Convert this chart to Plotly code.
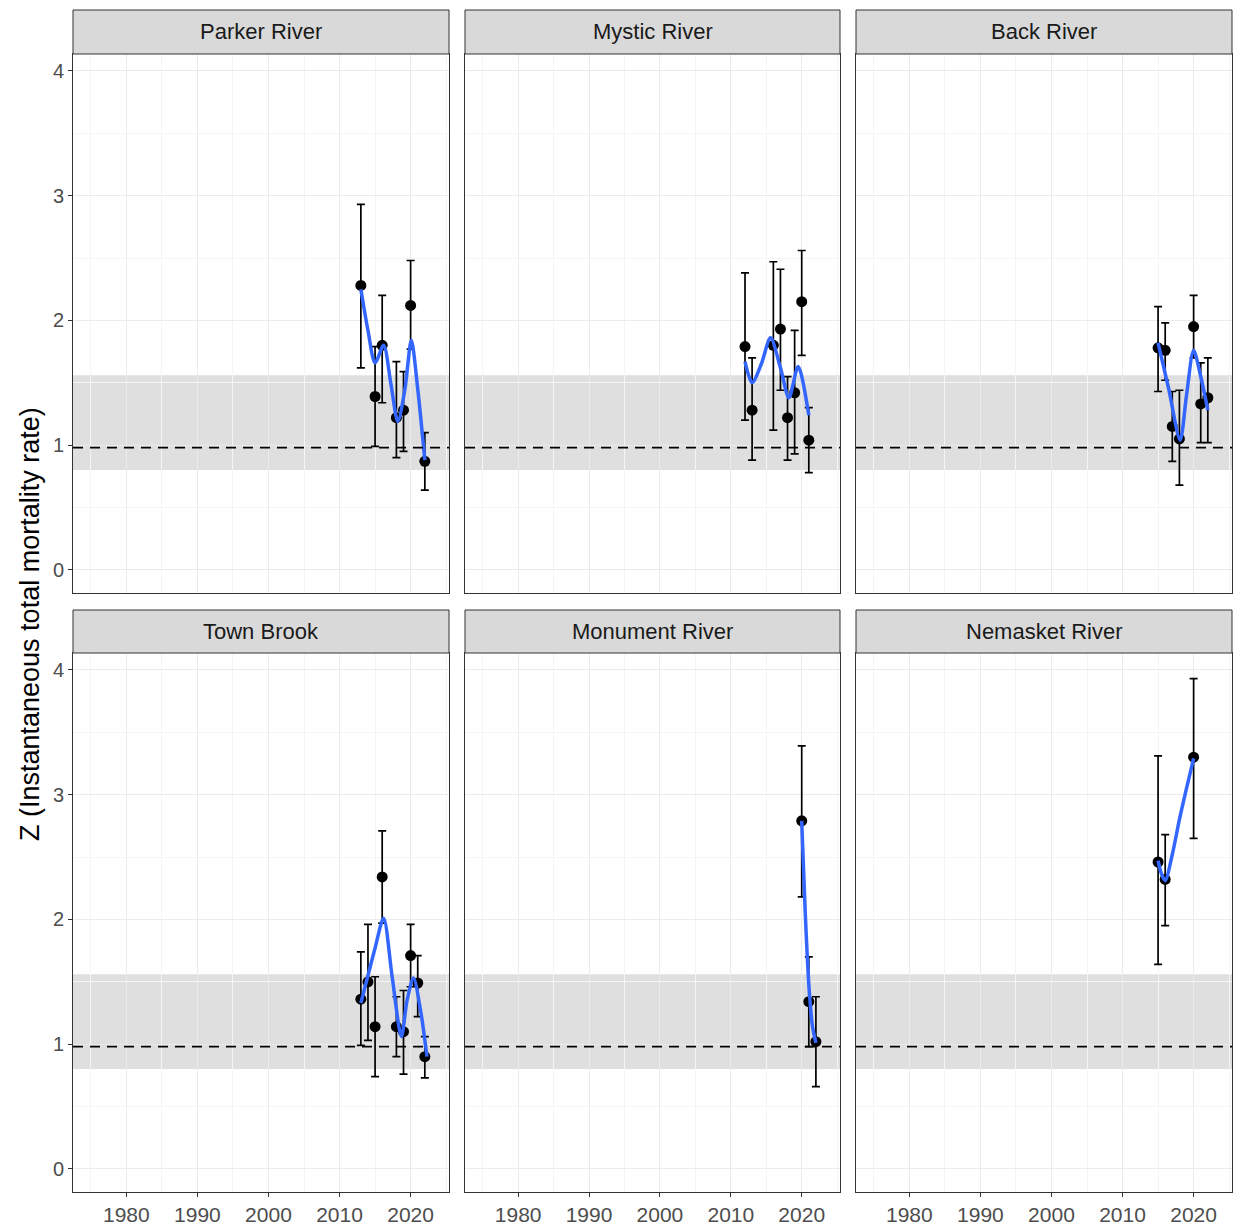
import plotly.graph_objects as go

W, H = 1236, 1230

rivers = ["Parker River", "Mystic River", "Back River", "Town Brook", "Monument River", "Nemasket River"]

# ---- observed Z estimates with confidence limits ----
parker_years = [2013, 2015, 2016, 2018, 2019, 2020, 2022]
parker_z = [2.28, 1.39, 1.80, 1.22, 1.28, 2.12, 0.87]
parker_lo = [1.62, 0.99, 1.34, 0.90, 0.95, 1.77, 0.64]
parker_hi = [2.93, 1.79, 2.20, 1.67, 1.59, 2.48, 1.10]

mystic_years = [2012, 2013, 2016, 2017, 2018, 2019, 2020, 2021]
mystic_z = [1.79, 1.28, 1.80, 1.93, 1.22, 1.42, 2.15, 1.04]
mystic_lo = [1.20, 0.88, 1.12, 1.44, 0.88, 0.93, 1.72, 0.78]
mystic_hi = [2.38, 1.70, 2.47, 2.41, 1.55, 1.92, 2.56, 1.30]

back_years = [2015, 2016, 2017, 2018, 2020, 2021, 2022]
back_z = [1.78, 1.76, 1.15, 1.05, 1.95, 1.33, 1.38]
back_lo = [1.43, 1.52, 0.87, 0.68, 1.70, 1.02, 1.02]
back_hi = [2.11, 1.98, 1.43, 1.44, 2.20, 1.66, 1.70]

town_years = [2013, 2014, 2015, 2016, 2018, 2019, 2020, 2021, 2022]
town_z = [1.36, 1.50, 1.14, 2.34, 1.14, 1.10, 1.71, 1.49, 0.90]
town_lo = [0.99, 1.03, 0.74, 1.97, 0.90, 0.76, 1.46, 1.22, 0.73]
town_hi = [1.74, 1.96, 1.54, 2.71, 1.38, 1.43, 1.96, 1.71, 1.06]

monument_years = [2020, 2021, 2022]
monument_z = [2.79, 1.34, 1.02]
monument_lo = [2.18, 0.98, 0.66]
monument_hi = [3.39, 1.70, 1.38]

nemasket_years = [2015, 2016, 2020]
nemasket_z = [2.46, 2.32, 3.30]
nemasket_lo = [1.64, 1.95, 2.65]
nemasket_hi = [3.31, 2.68, 3.93]

# ---- smoothed trend ----
parker_fit_x = [2013, 2014, 2015, 2016.2, 2017.2, 2018.2, 2019.2, 2020.1, 2021, 2022]
parker_fit_y = [2.25, 1.92, 1.66, 1.80, 1.50, 1.19, 1.45, 1.84, 1.45, 0.88]
mystic_fit_x = [2012, 2013, 2014.3, 2015.6, 2017, 2018.2, 2019.5, 2021]
mystic_fit_y = [1.67, 1.50, 1.65, 1.86, 1.62, 1.38, 1.63, 1.24]
back_fit_x = [2015, 2016.5, 2018.1, 2019, 2020, 2021, 2022]
back_fit_y = [1.82, 1.45, 1.04, 1.40, 1.76, 1.55, 1.28]
town_fit_x = [2013, 2014, 2015, 2016.2, 2017.4, 2018.7, 2019.5, 2020.4, 2021.4, 2022.3]
town_fit_y = [1.33, 1.55, 1.77, 2.01, 1.54, 1.06, 1.35, 1.53, 1.27, 0.90]
monument_fit_x = [2020, 2020.5, 2021, 2021.5, 2022]
monument_fit_y = [2.79, 2.05, 1.48, 1.15, 1.01]
nemasket_fit_x = [2015, 2015.5, 2016, 2017, 2018, 2019, 2020]
nemasket_fit_y = [2.47, 2.36, 2.31, 2.52, 2.80, 3.05, 3.29]

# reference level and band
ref_z = 0.98
band_lo, band_hi = 0.80, 1.56

x_ticks = [1980, 1990, 2000, 2010, 2020]
y_ticks = [0, 1, 2, 3, 4]
x_range = [1972.5, 2025.4]
y_range = [-0.185, 4.135]

data = [
    (parker_years, parker_z, parker_lo, parker_hi, parker_fit_x, parker_fit_y),
    (mystic_years, mystic_z, mystic_lo, mystic_hi, mystic_fit_x, mystic_fit_y),
    (back_years, back_z, back_lo, back_hi, back_fit_x, back_fit_y),
    (town_years, town_z, town_lo, town_hi, town_fit_x, town_fit_y),
    (monument_years, monument_z, monument_lo, monument_hi, monument_fit_x, monument_fit_y),
    (nemasket_years, nemasket_z, nemasket_lo, nemasket_hi, nemasket_fit_x, nemasket_fit_y),
]

col_px = [(73, 449), (465, 840), (856, 1232)]
row_plot_px = [(54, 593), (653, 1192)]
row_strip_px = [(10, 54), (610, 653)]

FONT = "Liberation Sans, Arial, sans-serif"
fig = go.Figure()
layout = dict(width=W, height=H, margin=dict(l=0, r=0, t=0, b=0),
              paper_bgcolor="white", plot_bgcolor="white", showlegend=False,
              font=dict(family=FONT))
shapes = []
annotations = []

for i, (yrs, z, lo, hi, fx, fy) in enumerate(data):
    r, c = divmod(i, 3)
    n = i + 1
    xa = "x" if n == 1 else f"x{n}"
    ya = "y" if n == 1 else f"y{n}"
    x0, x1 = col_px[c]
    y0, y1 = row_plot_px[r]
    layout[f"xaxis{n}"] = dict(
        domain=[x0 / W, x1 / W], anchor=ya, range=x_range,
        tickmode="array", tickvals=x_ticks,
        showticklabels=(r == 1), ticks="outside" if r == 1 else "",
        ticklen=4, tickwidth=1, tickcolor="#333333",
        tickfont=dict(size=21, color="#4d4d4d", family=FONT),
        showgrid=True, gridcolor="#ebebeb", gridwidth=1,
        minor=dict(tickmode="array", tickvals=[1975, 1985, 1995, 2005, 2015, 2025],
                   showgrid=True, gridcolor="#f5f5f5", gridwidth=0.6, ticks=""),
        showline=True, linecolor="#333333", linewidth=1, mirror=True, zeroline=False,
    )
    layout[f"yaxis{n}"] = dict(
        domain=[1 - y1 / H, 1 - y0 / H], anchor=xa, range=y_range,
        tickmode="array", tickvals=y_ticks,
        showticklabels=(c == 0), ticks="outside" if c == 0 else "",
        ticklen=4, tickwidth=1, tickcolor="#333333",
        tickfont=dict(size=20, color="#4d4d4d", family=FONT),
        showgrid=True, gridcolor="#ebebeb", gridwidth=1,
        minor=dict(tickmode="array", tickvals=[0.5, 1.5, 2.5, 3.5],
                   showgrid=True, gridcolor="#f5f5f5", gridwidth=0.6, ticks=""),
        showline=True, linecolor="#333333", linewidth=1, mirror=True, zeroline=False,
    )
    # band + reference line
    shapes.append(dict(type="rect", xref=f"{xa} domain", yref=ya, x0=0, x1=1,
                       y0=band_lo, y1=band_hi, fillcolor="rgba(185,185,185,0.45)",
                       line=dict(width=0), layer="below"))
    shapes.append(dict(type="line", xref=f"{xa} domain", yref=ya, x0=0, x1=1,
                       y0=ref_z, y1=ref_z, line=dict(color="black", width=1.6, dash="10px,7px"),
                       layer="above"))
    # strip
    s0, s1 = row_strip_px[r]
    shapes.append(dict(type="rect", xref="paper", yref="paper",
                       x0=x0 / W, x1=x1 / W, y0=1 - s1 / H, y1=1 - s0 / H,
                       fillcolor="#d9d9d9", line=dict(color="#333333", width=1)))
    annotations.append(dict(xref="paper", yref="paper", x=(x0 + x1) / 2 / W,
                            y=1 - (s0 + s1) / 2 / H, text=rivers[i], showarrow=False,
                            xanchor="center", yanchor="middle",
                            font=dict(size=22, color="#1a1a1a", family=FONT)))
    # points with error bars
    fig.add_trace(go.Scatter(
        x=yrs, y=z, mode="markers", xaxis=xa, yaxis=ya,
        marker=dict(color="black", size=11),
        error_y=dict(type="data", symmetric=False,
                     array=[h - v for h, v in zip(hi, z)],
                     arrayminus=[v - l for v, l in zip(z, lo)],
                     color="black", thickness=1.7, width=4),
    ))
    # smooth
    fig.add_trace(go.Scatter(
        x=fx, y=fy, mode="lines", xaxis=xa, yaxis=ya,
        line=dict(color="#3366FF", width=3.5, shape="spline", smoothing=0.8),
    ))

annotations.append(dict(xref="paper", yref="paper", x=30 / W, y=1 - 624 / H,
                        text="Z (Instantaneous total mortality rate)", showarrow=False,
                        textangle=-90, xanchor="center", yanchor="middle",
                        font=dict(size=27, color="black", family=FONT)))

layout["shapes"] = shapes
layout["annotations"] = annotations
fig.update_layout(**layout)

fig.write_html("out.html", config={"displayModeBar": False},
               post_script="document.body.style.margin='0';")
